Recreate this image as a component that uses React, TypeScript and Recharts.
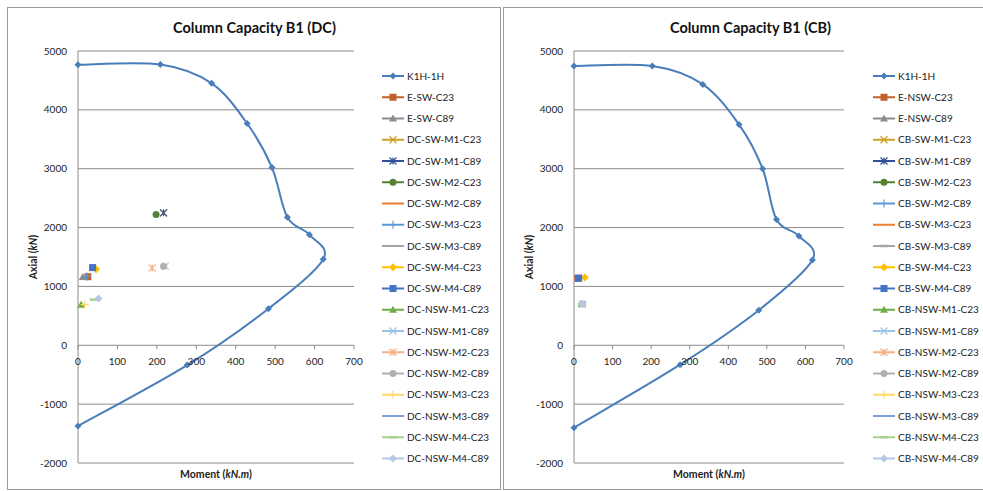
import { CartesianGrid, ComposedChart, Line, Scatter, XAxis, YAxis } from 'recharts';

// K1H-1H interaction curve
const DC_CURVE_M = [0, 209, 339, 429, 492, 531, 587, 622, 483, 277, 0];
const DC_CURVE_A = [4766, 4770, 4450, 3768, 3019, 2177, 1877, 1462, 622, -337, -1372];
const CB_CURVE_M = [0, 203, 334, 428, 489, 525, 583, 618, 479, 275, 0];
const CB_CURVE_A = [4744, 4744, 4432, 3750, 3000, 2138, 1857, 1448, 596, -330, -1400];

// single-point series (null = nothing plotted)
const DC_NAMES = [
  'E-SW-C23', 'E-SW-C89', 'DC-SW-M1-C23', 'DC-SW-M1-C89', 'DC-SW-M2-C23', 'DC-SW-M2-C89',
  'DC-SW-M3-C23', 'DC-SW-M3-C89', 'DC-SW-M4-C23', 'DC-SW-M4-C89', 'DC-NSW-M1-C23', 'DC-NSW-M1-C89',
  'DC-NSW-M2-C23', 'DC-NSW-M2-C89', 'DC-NSW-M3-C23', 'DC-NSW-M3-C89', 'DC-NSW-M4-C23', 'DC-NSW-M4-C89',
];
const DC_M = [25, 12, 217, 217, 198, null, 22, null, 46, 37, 8, 221, 188, 217, 17, null, 40, 52];
const DC_A = [1165, 1160, 2250, 2250, 2220, null, 1170, null, 1290, 1320, 690, 1345, 1315, 1342, 690, null, 775, 797];

const CB_NAMES = [
  'E-NSW-C23', 'E-NSW-C89', 'CB-SW-M1-C23', 'CB-SW-M1-C89', 'CB-SW-M2-C23', 'CB-SW-M2-C89',
  'CB-SW-M3-C23', 'CB-SW-M3-C89', 'CB-SW-M4-C23', 'CB-SW-M4-C89', 'CB-NSW-M1-C23', 'CB-NSW-M1-C89',
  'CB-NSW-M2-C23', 'CB-NSW-M2-C89', 'CB-NSW-M3-C23', 'CB-NSW-M3-C89', 'CB-NSW-M4-C23', 'CB-NSW-M4-C89',
];
const CB_M = [10, 10, null, null, null, null, null, null, 28, 12, 20, 22, 22, 22, 22, null, 20, 22];
const CB_A = [1140, 1140, null, null, null, null, null, null, 1150, 1140, 700, 700, 700, 700, 700, null, 700, 700];

const X_TICKS = [0, 100, 200, 300, 400, 500, 600, 700];
const Y_TICKS = [-2000, -1000, 0, 1000, 2000, 3000, 4000, 5000];

// styles
const CURVE_COLOR = '#4a7ebb';
const DC_COLORS = [
  '#c0612b', '#8c8c8c', '#c9a227', '#2f4f9a', '#548235', '#ed7d31', '#5b9bd5', '#a5a5a5', '#ffc000',
  '#4472c4', '#70ad47', '#9dc3e6', '#f4b183', '#b0b0b0', '#ffd966', '#7f9fd8', '#a9d18e', '#b4c7e7',
];
const DC_MARKERS = [
  'square', 'triangle', 'x', 'star', 'circle', 'none', 'plus', 'none', 'diamond',
  'square', 'triangle', 'x', 'star', 'circle', 'plus', 'none', 'dash', 'diamond',
];
const CB_COLORS = [
  '#c0612b', '#8c8c8c', '#c9a227', '#2f4f9a', '#548235', '#5b9bd5', '#ed7d31', '#a5a5a5', '#ffc000',
  '#4472c4', '#70ad47', '#9dc3e6', '#f4b183', '#b0b0b0', '#ffd966', '#7f9fd8', '#a9d18e', '#b4c7e7',
];
const CB_MARKERS = [
  'square', 'triangle', 'x', 'star', 'circle', 'plus', 'none', 'dash', 'diamond',
  'square', 'triangle', 'x', 'star', 'circle', 'plus', 'none', 'dash', 'diamond',
];

const FONT = 'Lato, "Open Sans", sans-serif';
const GRID = '#8c8c8c';
const PANEL_H = 483;
const PLOT_TOP = 44;
const PLOT_H = 412;
const Y_MIN = -2000;
const Y_MAX = 5000;

// Excel-like smoothed line (cardinal / catmull-rom through points)
function excelSmooth(context: any) {
  let pts: number[][] = [];
  return {
    areaStart() {},
    areaEnd() {},
    lineStart() {
      pts = [];
    },
    point(x: number, y: number) {
      pts.push([+x, +y]);
    },
    lineEnd() {
      const n = pts.length;
      if (!n) return;
      context.moveTo(pts[0][0], pts[0][1]);
      for (let i = 0; i < n - 1; i++) {
        const p0 = pts[i === 0 ? 0 : i - 1];
        const p1 = pts[i];
        const p2 = pts[i + 1];
        const p3 = pts[i + 2 < n ? i + 2 : n - 1];
        context.bezierCurveTo(
          p1[0] + (p2[0] - p0[0]) / 6,
          p1[1] + (p2[1] - p0[1]) / 6,
          p2[0] - (p3[0] - p1[0]) / 6,
          p2[1] - (p3[1] - p1[1]) / 6,
          p2[0],
          p2[1],
        );
      }
    },
  };
}

function Marker({ cx, cy, kind, color }: { cx: number; cy: number; kind: string; color: string }) {
  const s = 3.5;
  switch (kind) {
    case 'square':
      return <rect x={cx - s} y={cy - s} width={s * 2} height={s * 2} fill={color} />;
    case 'triangle':
      return <polygon points={`${cx},${cy - 4} ${cx + 4},${cy + 3} ${cx - 4},${cy + 3}`} fill={color} />;
    case 'circle':
      return <circle cx={cx} cy={cy} r={s} fill={color} />;
    case 'diamond':
      return <polygon points={`${cx},${cy - 4} ${cx + 4},${cy} ${cx},${cy + 4} ${cx - 4},${cy}`} fill={color} />;
    case 'x':
      return (
        <path d={`M${cx - s},${cy - s}L${cx + s},${cy + s}M${cx - s},${cy + s}L${cx + s},${cy - s}`} stroke={color} strokeWidth={1.2} />
      );
    case 'star':
      return (
        <path
          d={`M${cx - s},${cy - s}L${cx + s},${cy + s}M${cx - s},${cy + s}L${cx + s},${cy - s}M${cx},${cy - s}L${cx},${cy + s}`}
          stroke={color}
          strokeWidth={1.2}
        />
      );
    case 'plus':
      return <path d={`M${cx - 4},${cy}L${cx + 4},${cy}M${cx},${cy - 4}L${cx},${cy + 4}`} stroke={color} strokeWidth={1.2} />;
    case 'dash':
      return <path d={`M${cx - 4},${cy}L${cx + 4},${cy}`} stroke={color} strokeWidth={2.5} />;
    default:
      return <g />;
  }
}

function CurveDot(props: any) {
  const { cx, cy, index } = props;
  return (
    <polygon key={`d${index}`} points={`${cx},${cy - 3.5} ${cx + 3.5},${cy} ${cx},${cy + 3.5} ${cx - 3.5},${cy}`} fill={CURVE_COLOR} />
  );
}

function XTick(props: any) {
  const { x, payload } = props;
  const y0 = PLOT_TOP + (PLOT_H * Y_MAX) / (Y_MAX - Y_MIN);
  return (
    <g>
      <line x1={x} x2={x} y1={y0} y2={y0 + 4} stroke={GRID} />
      <text x={x} y={y0 + 19.5} textAnchor="middle" fontSize={10} fontFamily={FONT} fill="#222">
        {payload.value}
      </text>
    </g>
  );
}

function XTitle(props: any) {
  const vb = props.viewBox || {};
  return (
    <text x={vb.x + vb.width / 2} y={vb.y + vb.height - 5} textAnchor="middle" fontSize={10.5} fontWeight="bold" fontFamily={FONT} fill="#222">
      Moment (<tspan fontStyle="italic">kN.m</tspan>)
    </text>
  );
}

function YTitle(props: any) {
  const vb = props.viewBox || {};
  const x = vb.x + 30;
  const y = vb.y + vb.height / 2;
  return (
    <text x={x} y={y} transform={`rotate(-90 ${x} ${y})`} textAnchor="middle" fontSize={10.5} fontWeight="bold" fontFamily={FONT} fill="#222">
      Axial (<tspan fontStyle="italic">kN</tspan>)
    </text>
  );
}

interface PanelProps {
  left: number;
  width: number;
  plotWidth: number;
  legendX: number;
  title: string;
  curveM: number[];
  curveA: number[];
  names: string[];
  ms: (number | null)[];
  as: (number | null)[];
  colors: string[];
  markers: string[];
}

function Panel({ left, width, plotWidth, legendX, title, curveM, curveA, names, ms, as, colors, markers }: PanelProps) {
  const curve = curveM.map((m, i) => ({ m, a: curveA[i] }));
  const legendNames = ['K1H-1H', ...names];
  const legendColors = [CURVE_COLOR, ...colors];
  const legendMarkers = ['curve', ...markers];
  return (
    <div
      style={{
        position: 'absolute',
        left,
        top: 7,
        width,
        height: PANEL_H,
        border: '1px solid #9a9a9a',
        boxSizing: 'border-box',
        background: '#fff',
        overflow: 'hidden',
      }}
    >
      <div
        style={{
          position: 'absolute',
          left: 0,
          top: 11,
          width: 493,
          textAlign: 'center',
          fontFamily: FONT,
          fontWeight: 'bold',
          fontSize: 14.5,
          color: '#111',
        }}
      >
        {title}
      </div>
      <div style={{ position: 'absolute', left: -1, top: -1 }}>
        <ComposedChart
          width={width}
          height={PANEL_H}
          margin={{ top: PLOT_TOP, right: width - 71 - plotWidth, bottom: PANEL_H - PLOT_TOP - PLOT_H - 20, left: 0 }}
        >
          <CartesianGrid vertical={false} stroke={GRID} strokeDasharray="" />
          <XAxis
            dataKey="m"
            type="number"
            domain={[0, 700]}
            ticks={X_TICKS}
            axisLine={false}
            tickLine={false}
            height={20}
            tick={<XTick />}
            label={<XTitle />}
          />
          <YAxis
            dataKey="a"
            type="number"
            domain={[Y_MIN, Y_MAX]}
            ticks={Y_TICKS}
            width={71}
            axisLine={{ stroke: GRID }}
            tickLine={false}
            tickSize={4}
            tickMargin={7}
            tick={{ fontSize: 10, fontFamily: FONT, fill: '#222' }}
            label={<YTitle />}
          />
          <Line
            data={curve}
            dataKey="a"
            type={excelSmooth as any}
            stroke={CURVE_COLOR}
            strokeWidth={2}
            dot={(p: any) => <CurveDot key={`cd${p.index}`} {...p} />}
            activeDot={false}
            isAnimationActive={false}
          />
          {names.map((name, i) =>
            ms[i] === null || markers[i] === 'none' ? null : (
              <Scatter
                key={name}
                name={name}
                data={[{ m: ms[i], a: as[i] }]}
                fill={colors[i]}
                shape={(p: any) => <Marker cx={p.cx} cy={p.cy} kind={markers[i]} color={colors[i]} />}
                isAnimationActive={false}
              />
            ),
          )}
        </ComposedChart>
      </div>
      <svg style={{ position: 'absolute', left: 0, top: 0 }} width={width} height={PANEL_H}>
        {legendNames.map((name, i) => {
          const y = 68 + i * 21.25;
          return (
            <g key={name}>
              <line x1={legendX} x2={legendX + 22} y1={y} y2={y} stroke={legendColors[i]} strokeWidth={2} />
              {legendMarkers[i] === 'curve' ? (
                <CurveDot cx={legendX + 11} cy={y} index={-1} />
              ) : (
                <Marker cx={legendX + 11} cy={y} kind={legendMarkers[i]} color={legendColors[i]} />
              )}
              <text x={legendX + 25} y={y + 3.5} fontSize={10} fontFamily={FONT} fill="#222">
                {name}
              </text>
            </g>
          );
        })}
      </svg>
    </div>
  );
}

export default function App() {
  return (
    <div style={{ position: 'absolute', left: 0, top: 0, width: 983, height: 491, background: '#fff' }}>
      <Panel
        left={7}
        width={494}
        plotWidth={276}
        legendX={374}
        title="Column Capacity B1 (DC)"
        curveM={DC_CURVE_M}
        curveA={DC_CURVE_A}
        names={DC_NAMES}
        ms={DC_M}
        as={DC_A}
        colors={DC_COLORS}
        markers={DC_MARKERS}
      />
      <Panel
        left={503}
        width={490}
        plotWidth={270}
        legendX={369}
        title="Column Capacity B1 (CB)"
        curveM={CB_CURVE_M}
        curveA={CB_CURVE_A}
        names={CB_NAMES}
        ms={CB_M}
        as={CB_A}
        colors={CB_COLORS}
        markers={CB_MARKERS}
      />
    </div>
  );
}
